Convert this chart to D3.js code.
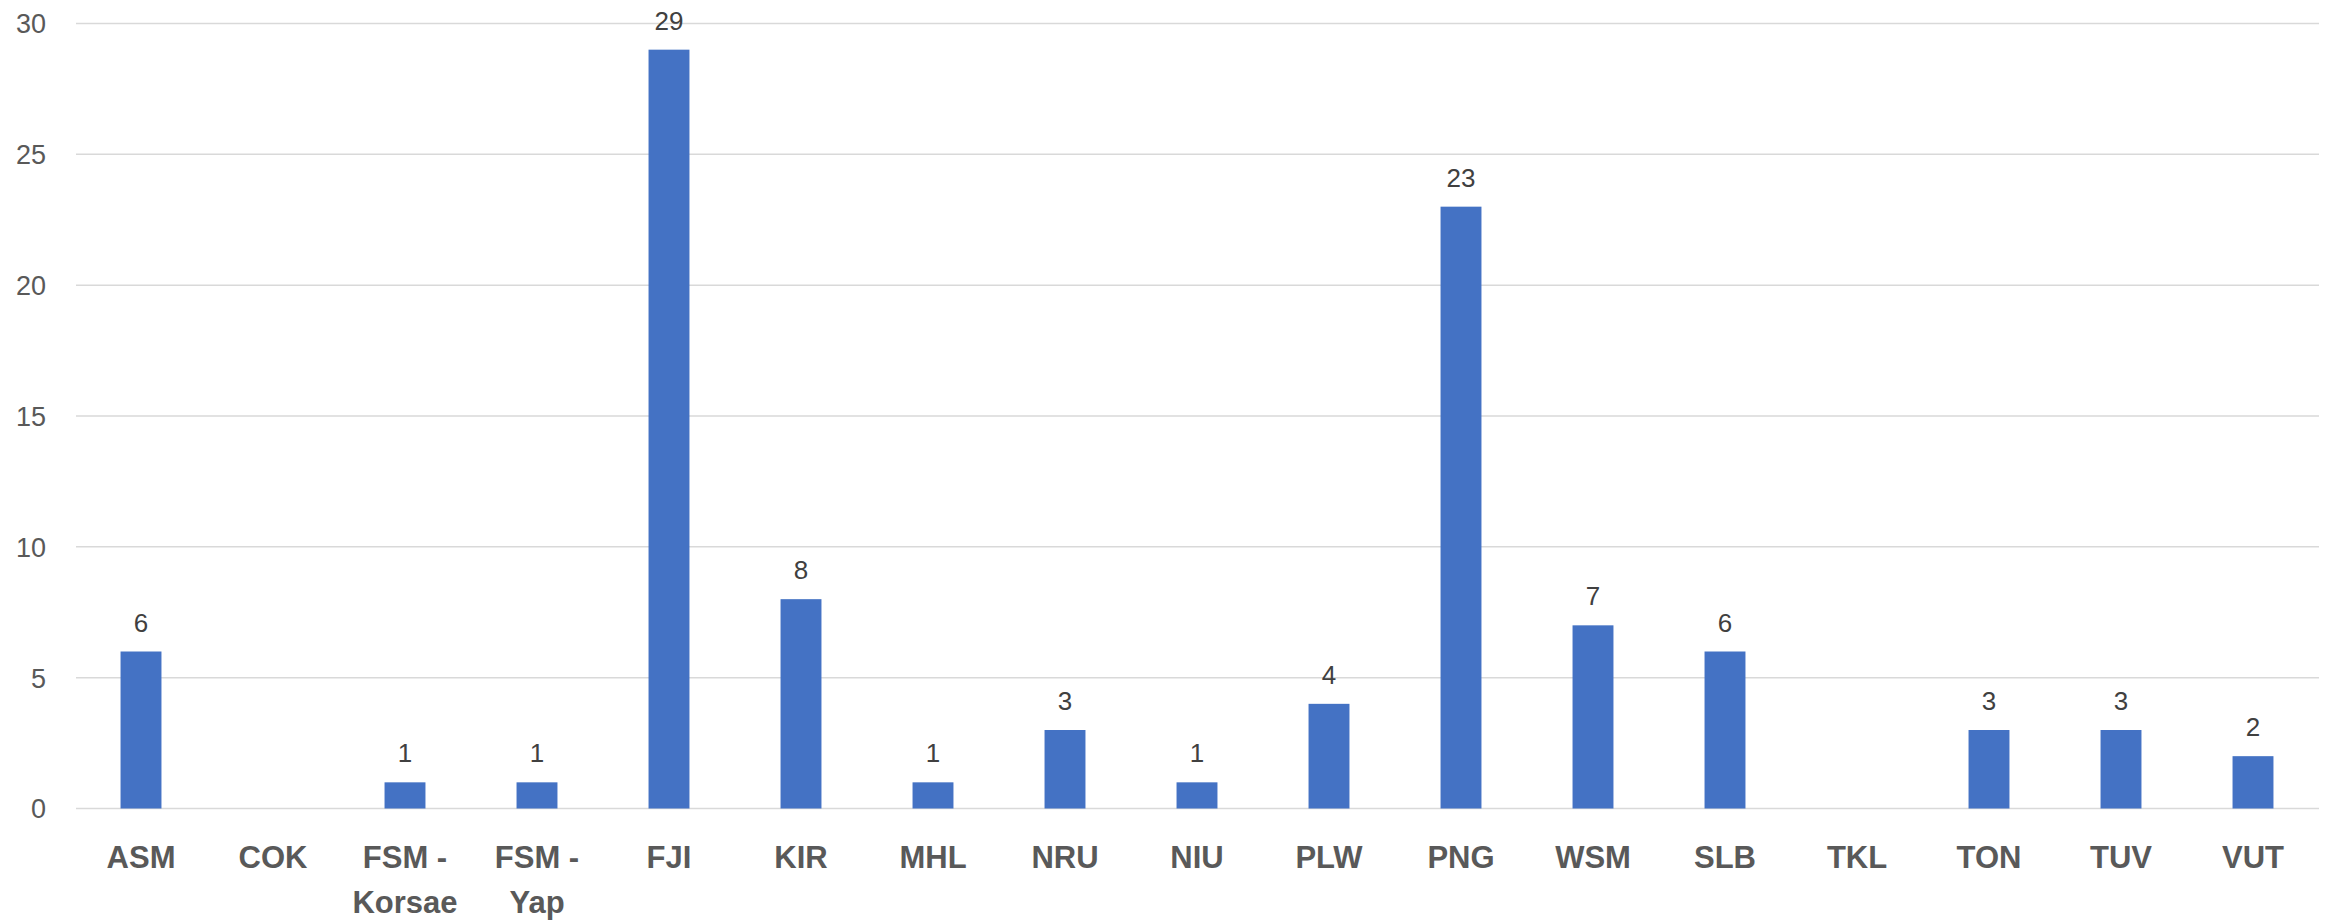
<!DOCTYPE html>
<html>
<head>
<meta charset="utf-8">
<script src="https://cdn.jsdelivr.net/npm/d3@7"></script>
<style>
  html, body { margin: 0; padding: 0; background: #fff; }
  svg { display: block; }
</style>
</head>
<body>
<svg id="chart" width="2330" height="922"></svg>
<script>
// ---- data ----
const categories = ["ASM", "COK", "FSM - Korsae", "FSM - Yap", "FJI", "KIR", "MHL", "NRU", "NIU", "PLW", "PNG", "WSM", "SLB", "TKL", "TON", "TUV", "VUT"];
const categoryLines = [["ASM"], ["COK"], ["FSM -", "Korsae"], ["FSM -", "Yap"], ["FJI"], ["KIR"], ["MHL"], ["NRU"], ["NIU"], ["PLW"], ["PNG"], ["WSM"], ["SLB"], ["TKL"], ["TON"], ["TUV"], ["VUT"]];
const values = [6, 0, 1, 1, 29, 8, 1, 3, 1, 4, 23, 7, 6, 0, 3, 3, 2];
const yTicks = [0, 5, 10, 15, 20, 25, 30];

const rows = categories.map((c, i) => ({ cat: c, value: values[i], lines: categoryLines[i] }));

// ---- layout ----
(function () {
const svg = d3.select("#chart");
const plotLeft = 76, plotRight = 2319, plotTop = 23.5, plotBottom = 808.5;

const x = d3.scaleBand().domain(categories).range([plotLeft - 1, plotRight]).paddingInner(0.69).paddingOuter(0.345);
const y = d3.scaleLinear().domain([0, 30]).range([plotBottom, plotTop]);

// gridlines
svg.append("g").selectAll("line").data(yTicks).join("line")
  .attr("x1", plotLeft).attr("x2", plotRight)
  .attr("y1", d => y(d)).attr("y2", d => y(d))
  .attr("stroke", "#d9d9d9").attr("stroke-width", 1.5);

// y axis labels
const yAxis = d3.axisLeft(y).tickValues(yTicks).tickSize(0).tickPadding(0);
const yg = svg.append("g").attr("transform", "translate(46,0)").call(yAxis);
yg.select(".domain").remove();
yg.selectAll("text")
  .attr("fill", "#595959")
  .style("font-family", "'Liberation Sans', Arial, sans-serif")
  .style("font-size", "27px")
  .attr("dy", "0.35em");

// bars
svg.append("g").selectAll("rect").data(rows).join("rect")
  .attr("x", d => x(d.cat))
  .attr("width", x.bandwidth())
  .attr("y", d => y(d.value))
  .attr("height", d => y(0) - y(d.value))
  .attr("fill", "#4472c4");

// data labels
svg.append("g").selectAll("text").data(rows.filter(d => d.value > 0)).join("text")
  .attr("x", d => x(d.cat) + x.bandwidth() / 2)
  .attr("y", d => y(d.value) - 20)
  .attr("text-anchor", "middle")
  .attr("fill", "#404040")
  .style("font-family", "'Liberation Sans', Arial, sans-serif")
  .style("font-size", "26px")
  .text(d => d.value);

// x axis labels
const xAxis = d3.axisBottom(x).tickSize(0).tickPadding(0);
const xg = svg.append("g").attr("transform", `translate(0,${plotBottom})`).call(xAxis);
xg.select(".domain").remove();
xg.selectAll(".tick text").each(function (d) {
  const lines = categoryLines[categories.indexOf(d)];
  const t = d3.select(this)
    .attr("y", 59.5).attr("dy", null)
    .attr("fill", "#595959")
    .style("font-family", "'Liberation Sans', Arial, sans-serif")
    .style("font-size", "31px")
    .style("font-weight", "bold");
  t.text(null);
  lines.forEach((ln, k) => {
    t.append("tspan").attr("x", 0).attr("dy", k === 0 ? 0 : 45).text(ln);
  });
});
})();
</script>
</body>
</html>
